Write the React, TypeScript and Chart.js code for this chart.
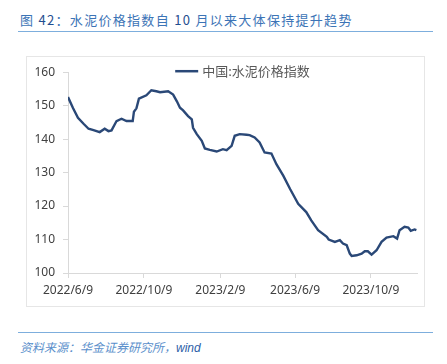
import React, { useEffect, useRef } from "react";
import { Chart, registerables } from "chart.js";

Chart.register(...registerables);

const titleParts = ["图 ", "42", "：水泥价格指数自 ", "10", " 月以来大体保持提升趋势"];
const sourceText = "资料来源：华金证券研究所，";
const sourceTail = "wind";
const seriesName = "中国:水泥价格指数";

const startDate = "2022-06-09";
const endDate = "2023-12-22";
const tickDates = ["2022-06-09", "2022-10-09", "2023-02-09", "2023-06-09", "2023-10-09"];
const yTicks = [100, 110, 120, 130, 140, 150, 160];

const dates = [
  "2022-06-09", "2022-06-17", "2022-06-25", "2022-07-04", "2022-07-12", "2022-07-20",
  "2022-07-30", "2022-08-07", "2022-08-13", "2022-08-18", "2022-08-26", "2022-09-03",
  "2022-09-11", "2022-09-21", "2022-09-23", "2022-09-27", "2022-10-01", "2022-10-13",
  "2022-10-21", "2022-10-29", "2022-11-04", "2022-11-17", "2022-11-25", "2022-12-01",
  "2022-12-06", "2022-12-11", "2022-12-19", "2022-12-25", "2022-12-27", "2023-01-02",
  "2023-01-10", "2023-01-15", "2023-01-23", "2023-02-03", "2023-02-13", "2023-02-19",
  "2023-02-27", "2023-03-04", "2023-03-12", "2023-03-23", "2023-03-28", "2023-04-05",
  "2023-04-13", "2023-04-21", "2023-05-02", "2023-05-10", "2023-05-21", "2023-06-01",
  "2023-06-14", "2023-06-27", "2023-07-05", "2023-07-16", "2023-07-30", "2023-08-02",
  "2023-08-12", "2023-08-20", "2023-08-25", "2023-08-31", "2023-09-05", "2023-09-08",
  "2023-09-16", "2023-09-24", "2023-09-29", "2023-10-04", "2023-10-10", "2023-10-18",
  "2023-10-26", "2023-11-03", "2023-11-14", "2023-11-20", "2023-11-24", "2023-12-02",
  "2023-12-08", "2023-12-12", "2023-12-18", "2023-12-21",
];

const cementIndex = [
  152.6, 149.3, 146.4, 144.6, 143.1, 142.7,
  142.1, 143.1, 142.4, 142.6, 145.4, 146.1,
  145.4, 145.4, 148.2, 149.2, 152.1, 153.1,
  154.6, 154.3, 154.0, 154.3, 153.3, 151.3,
  149.4, 148.6, 146.9, 145.9, 143.4, 141.5,
  139.5, 137.2, 136.8, 136.3, 137.0, 136.7,
  138.0, 141.0, 141.5, 141.3, 141.2, 140.5,
  139.0, 136.0, 135.7, 132.5, 129.1, 125.1,
  120.7, 118.2, 115.7, 112.8, 110.8, 110.0,
  109.3, 109.8, 108.8, 108.3, 105.8, 105.1,
  105.3, 105.8, 106.5, 106.5, 105.5, 106.8,
  109.3, 110.6, 111.0, 110.3, 112.8, 113.8,
  113.6, 112.6, 113.0, 112.8,
];

const DAY = 86400000;
const toUTC = (s: string) => {
  const [y, m, d] = s.split("-").map(Number);
  return Date.UTC(y, m - 1, d);
};
const dayOf = (s: string) => Math.round((toUTC(s) - toUTC(startDate)) / DAY);
const fmtDay = (v: number) => {
  const dt = new Date(toUTC(startDate) + v * DAY);
  return `${dt.getUTCFullYear()}/${dt.getUTCMonth() + 1}/${dt.getUTCDate()}`;
};

const LINE_COLOR = "#2A4877";
const AXIS_COLOR = "#D9D9D9";
const TICK_FONT = { family: "'Noto Sans', 'Liberation Sans', sans-serif", size: 12 };

const legendPlugin = {
  id: "innerLegend",
  afterDraw(chart: any) {
    const { ctx, chartArea } = chart;
    const cx = (chartArea.left + chartArea.right) / 2;
    const y = chartArea.top - 1;
    ctx.save();
    ctx.font = "13px 'Noto Sans CJK SC', 'Noto Sans', sans-serif";
    const tw = ctx.measureText(seriesName).width;
    const lineW = 23;
    const gap = 4;
    const total = lineW + gap + tw;
    const x0 = cx - total / 2;
    ctx.strokeStyle = LINE_COLOR;
    ctx.lineWidth = 2.5;
    ctx.beginPath();
    ctx.moveTo(x0, y);
    ctx.lineTo(x0 + lineW, y);
    ctx.stroke();
    ctx.fillStyle = "#595959";
    ctx.textBaseline = "middle";
    ctx.textAlign = "left";
    ctx.fillText(seriesName, x0 + lineW + gap, y);
    ctx.restore();
  },
};

export default function App() {
  const ref = useRef<HTMLCanvasElement | null>(null);

  useEffect(() => {
    if (!ref.current) return;
    const points = dates.map((d, i) => ({ x: dayOf(d), y: cementIndex[i] }));
    const tickDays = tickDates.map(dayOf);
    const chart = new Chart(ref.current, {
      type: "line",
      data: {
        datasets: [
          {
            label: seriesName,
            data: points,
            borderColor: LINE_COLOR,
            backgroundColor: LINE_COLOR,
            borderWidth: 2.4,
            pointRadius: 0,
            tension: 0,
            fill: false,
          },
        ],
      },
      options: {
        animation: false,
        responsive: false,
        maintainAspectRatio: false,
        layout: { padding: { left: 0, right: 7, top: 14, bottom: 0 } },
        plugins: {
          legend: { display: false },
          tooltip: { enabled: false },
        },
        scales: {
          x: {
            type: "linear",
            min: 0,
            max: dayOf(endDate),
            afterBuildTicks: (scale: any) => {
              scale.ticks = tickDays.map((v) => ({ value: v }));
            },
            afterFit: (scale: any) => {
              scale.height = 33;
            },
            grid: {
              drawOnChartArea: false,
              drawTicks: true,
              tickLength: 5,
              color: AXIS_COLOR,
            },
            border: { display: true, color: AXIS_COLOR, width: 1 },
            ticks: {
              autoSkip: false,
              maxRotation: 0,
              padding: 5,
              color: "#404040",
              font: TICK_FONT,
              callback: (v: any) => fmtDay(Number(v)),
            },
          },
          y: {
            min: 100,
            max: 160,
            afterBuildTicks: (scale: any) => {
              scale.ticks = yTicks.map((v) => ({ value: v }));
            },
            afterFit: (scale: any) => {
              scale.width = 41;
            },
            grid: {
              drawOnChartArea: false,
              drawTicks: true,
              tickLength: 5,
              color: AXIS_COLOR,
            },
            border: { display: true, color: AXIS_COLOR, width: 1 },
            ticks: {
              padding: 8,
              color: "#404040",
              font: TICK_FONT,
            },
          },
        },
      },
      plugins: [legendPlugin],
    } as any);
    return () => chart.destroy();
  }, []);

  return (
    <div
      style={{
        position: "absolute",
        left: 0,
        top: 0,
        width: 447,
        height: 364,
        background: "#fff",
        fontFamily: "'Noto Sans CJK SC', 'Noto Sans', sans-serif",
      }}
    >
      <div
        style={{
          position: "absolute",
          left: 20,
          top: 10,
          fontSize: 13,
          lineHeight: "20px",
          letterSpacing: "1.3px",
          color: "#3C74B6",
          whiteSpace: "nowrap",
        }}
      >
        {titleParts.map((p, i) => (
          <span key={i} style={i % 2 === 1 ? { color: "#1F4E8F" } : undefined}>
            {p}
          </span>
        ))}
      </div>
      <div
        style={{
          position: "absolute",
          left: 18,
          top: 31,
          width: 415,
          height: 1,
          background: "#7DAEDD",
        }}
      />
      <div
        style={{
          position: "absolute",
          left: 26,
          top: 56,
          width: 397,
          height: 249,
          border: "1px solid #E6E6E6",
        }}
      >
        <canvas ref={ref} width={397} height={249} style={{ display: "block", width: 397, height: 249 }} />
      </div>
      <div
        style={{
          position: "absolute",
          left: 18,
          top: 332,
          width: 415,
          height: 1,
          background: "#7DAEDD",
        }}
      />
      <div
        style={{
          position: "absolute",
          left: 20,
          top: 339,
          fontSize: 12,
          lineHeight: "16px",
          fontStyle: "italic",
          color: "#5B8FCB",
          whiteSpace: "nowrap",
        }}
      >
        {sourceText}
        <span style={{ color: "#2E5FA8", fontFamily: "'Liberation Sans', sans-serif" }}>{sourceTail}</span>
      </div>
    </div>
  );
}
